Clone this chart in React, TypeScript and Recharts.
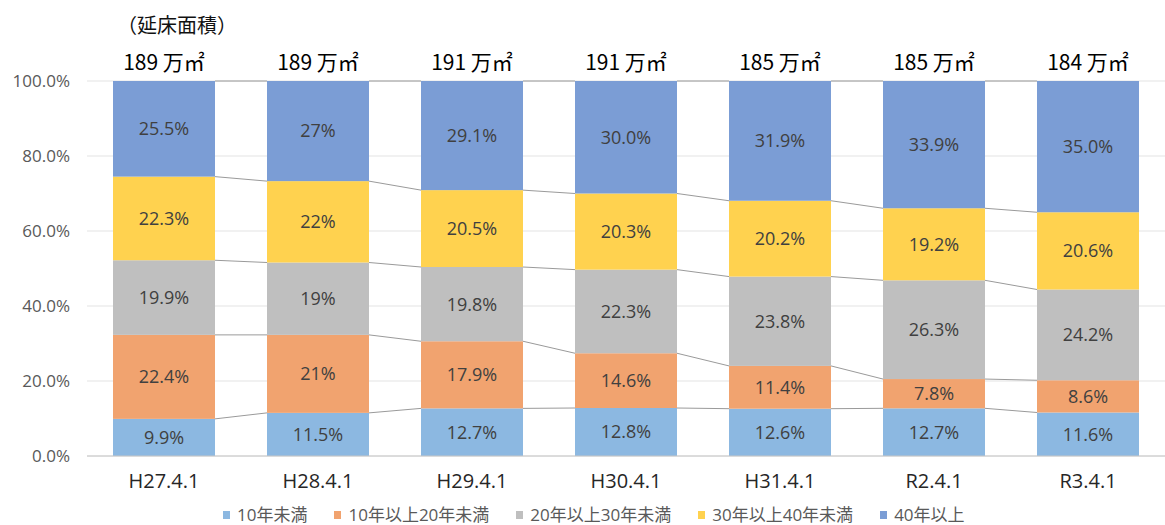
import React from "react";
import {
  BarChart,
  Bar,
  XAxis,
  YAxis,
  CartesianGrid,
  LabelList,
  Legend,
} from "recharts";

// ---- data ----
const categories = ["H27.4.1", "H28.4.1", "H29.4.1", "H30.4.1", "H31.4.1", "R2.4.1", "R3.4.1"];
const totalArea = [189, 189, 191, 191, 185, 185, 184]; // 万㎡
const seriesNames = ["10年未満", "10年以上20年未満", "20年以上30年未満", "30年以上40年未満", "40年以上"];
const under10 = [9.9, 11.5, 12.7, 12.8, 12.6, 12.7, 11.6];
const from10to20 = [22.4, 20.8, 17.9, 14.6, 11.4, 7.8, 8.6];
const from20to30 = [19.9, 19.3, 19.8, 22.3, 23.8, 26.3, 24.2];
const from30to40 = [22.3, 21.7, 20.5, 20.3, 20.2, 19.2, 20.6];
const over40 = [25.5, 26.7, 29.1, 30.0, 31.9, 33.9, 35.0];
// decimals shown in the data labels (per category, per series)
const labelDigits = [
  [1, 1, 1, 1, 1],
  [1, 0, 0, 0, 0],
  [1, 1, 1, 1, 1],
  [1, 1, 1, 1, 1],
  [1, 1, 1, 1, 1],
  [1, 1, 1, 1, 1],
  [1, 1, 1, 1, 1],
];
const yTicks = [0, 0.2, 0.4, 0.6, 0.8, 1];

const series = [under10, from10to20, from20to30, from30to40, over40];
const colors = ["#8CB8E1", "#F1A36F", "#BFBFBF", "#FFD24F", "#7B9DD5"];
const keys = ["s1", "s2", "s3", "s4", "s5"];

const data = categories.map((c, i) => {
  const row: any = { name: c, totalLabel: `${totalArea[i]} 万㎡` };
  series.forEach((s, j) => {
    row[keys[j]] = s[i];
    row[`l${j + 1}`] = `${s[i].toFixed(labelDigits[i][j])}%`;
  });
  return row;
});

const rowTotal = (i: number) => series.reduce((a, s) => a + s[i], 0);
const cumTo = (sIdx: number, i: number) => {
  let t = 0;
  for (let j = 0; j <= sIdx; j++) t += series[j][i];
  return t;
};

const GAP = 26;
const LATIN = "'Open Sans', 'Noto Sans CJK JP', sans-serif";
const CJK = "'Noto Sans CJK JP', sans-serif";

const makeShape = (sIdx: number) => (props: any) => {
  const { x, y, width, height, index, fill } = props;
  const parts: any[] = [
    <rect key="r" x={x} y={y} width={width} height={height} fill={fill} />,
  ];
  if (index < categories.length - 1 && height > 0) {
    const frac = series[sIdx][index] / rowTotal(index);
    const k = height / frac;
    const below = (cumTo(sIdx, index) - series[sIdx][index]) / rowTotal(index);
    const zeroY = y + height + below * k;
    const nextTop = cumTo(sIdx, index + 1) / rowTotal(index + 1);
    const ny = zeroY - nextTop * k;
    parts.push(
      <line
        key="l"
        x1={x + width}
        y1={y}
        x2={x + width + 2 * GAP}
        y2={ny}
        stroke="#9a9a9a"
        strokeWidth={1}
      />
    );
  }
  return <g>{parts}</g>;
};

const renderLegend = () => (
  <div
    style={{
      display: "flex",
      alignItems: "center",
      fontFamily: LATIN,
      fontSize: 17,
      lineHeight: "20px",
      color: "#595959",
      whiteSpace: "nowrap",
      height: 20,
    }}
  >
    {seriesNames.map((n, i) => (
      <div key={n} style={{ display: "flex", alignItems: "center", marginRight: 27 }}>
        <span
          style={{
            display: "inline-block",
            width: 7,
            height: 8,
            background: colors[i],
            marginRight: 7,
          }}
        />
        <span>{n}</span>
      </div>
    ))}
  </div>
);

export default function App() {
  return (
    <div style={{ position: "absolute", left: 0, top: 0, width: 1165, height: 525, background: "#fff" }}>
      <div
        style={{
          position: "absolute",
          left: 117,
          top: 15,
          fontFamily: CJK,
          fontSize: 20,
          lineHeight: "20px",
          color: "#111",
          whiteSpace: "nowrap",
          zIndex: 2,
        }}
      >
        （延床面積）
      </div>
      <BarChart
        width={1165}
        height={525}
        data={data}
        stackOffset="expand"
        barCategoryGap={GAP}
        margin={{ top: 81, right: 0, bottom: 0, left: 0 }}
      >
        <CartesianGrid vertical={false} stroke="#e3e3e3" />
        <XAxis
          dataKey="name"
          height={69}
          interval={0}
          tickLine={false}
          tickSize={0}
          tickMargin={18}
          axisLine={{ stroke: "#c6c6c6" }}
          tick={{ fill: "#262626", fontSize: 20, fontFamily: LATIN }}
        />
        <YAxis
          width={87}
          domain={[0, 1]}
          ticks={yTicks}
          tickFormatter={(v: number) => `${(v * 100).toFixed(1)}%`}
          axisLine={false}
          tickLine={false}
          tickSize={0}
          tickMargin={17}
          tick={{ fill: "#595959", fontSize: 17, fontFamily: LATIN }}
        />
        <Legend
          content={renderLegend}
          layout="horizontal"
          verticalAlign="middle"
          align="center"
          wrapperStyle={{ left: 223, top: 505, width: 800, height: 20 }}
        />
        {keys.map((k, j) => (
          <Bar
            key={k}
            dataKey={k}
            name={seriesNames[j]}
            stackId="a"
            fill={colors[j]}
            isAnimationActive={false}
            shape={makeShape(j)}
          >
            <LabelList
              dataKey={`l${j + 1}`}
              position="center"
              fill="#404040"
              fontSize={18}
              fontFamily={LATIN}
            />
            {j === keys.length - 1 && (
              <LabelList
                dataKey="totalLabel"
                position="top"
                offset={11}
                fill="#000"
                fontSize={21}
                fontFamily="'Liberation Sans Narrow', 'Noto Sans CJK JP', sans-serif"
              />
            )}
          </Bar>
        ))}
      </BarChart>
    </div>
  );
}
